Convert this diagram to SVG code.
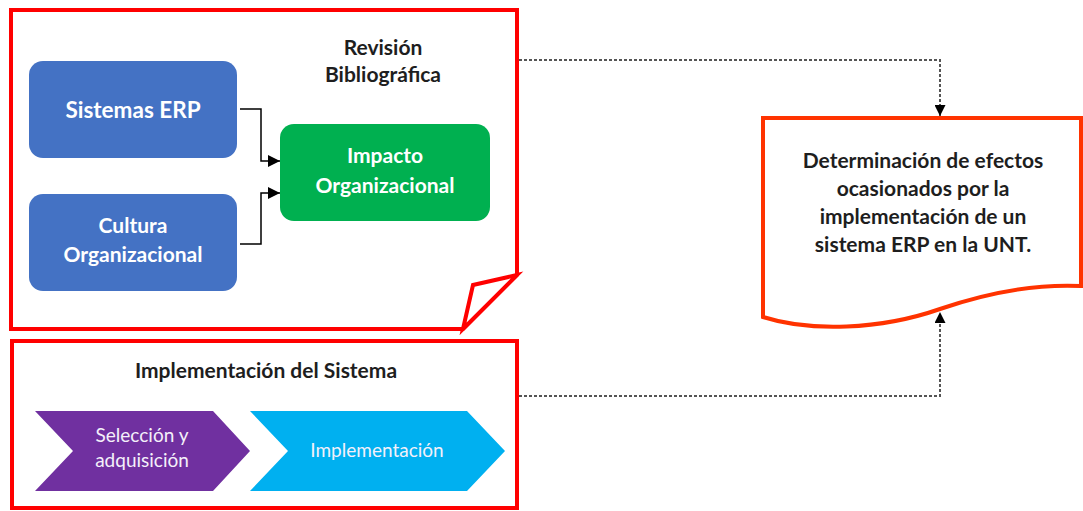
<svg xmlns="http://www.w3.org/2000/svg" width="1083" height="511" viewBox="0 0 1083 511">
  <style>
    .frame { fill: #ffffff; stroke: #ff0000; stroke-width: 4; stroke-linejoin: miter; }
    .doc { fill: #ffffff; stroke: #ff3300; stroke-width: 4; }
    .box-blue { fill: #4472c4; }
    .box-green { fill: #00b050; }
    .lbl { font-family: Lato, "Liberation Sans", sans-serif; font-weight: bold; text-anchor: middle; }
    .white { fill: #ffffff; }
    .dark { fill: #1e1e1e; }
    .chev-lbl { font-family: Lato, "Liberation Sans", sans-serif; font-size: 19px; fill: #f4f0fa; text-anchor: middle; }
    .solid { fill: none; stroke: #000000; stroke-width: 1.5; }
    .dotted { fill: none; stroke: #555555; stroke-width: 2; stroke-dasharray: 3 2; }
  </style>
  <defs>
    <marker id="arrow-solid" viewBox="0 0 10 10" refX="10" refY="5" markerWidth="12" markerHeight="12" markerUnits="userSpaceOnUse" orient="auto">
      <path d="M0,0 L10,5 L0,10 Z" fill="#000000"/>
    </marker>
    <marker id="arrow-dot" viewBox="0 0 10 10" refX="10" refY="5" markerWidth="11" markerHeight="11" markerUnits="userSpaceOnUse" orient="auto">
      <path d="M0,0 L10,5 L0,10 Z" fill="#000000"/>
    </marker>
  </defs>

  <!-- Literature review frame (folded-corner page) -->
  <g id="revision-bibliografica">
    <path class="frame" d="M11,10 H517 V275 L463,329 H11 Z"/>
    <path class="frame" d="M517,275 L473,285 L463,329 Z"/>
    <text class="lbl dark" font-size="21" x="383" y="55">Revisión</text>
    <text class="lbl dark" font-size="21" x="383" y="82">Bibliográfica</text>
  </g>

  <g id="sistemas-erp">
    <rect class="box-blue" x="29" y="61" width="208" height="97" rx="14"/>
    <text class="lbl white" font-size="22.5" x="133" y="118">Sistemas ERP</text>
  </g>

  <g id="cultura-organizacional">
    <rect class="box-blue" x="29" y="194" width="208" height="97" rx="14"/>
    <text class="lbl white" font-size="21" x="133" y="233">Cultura</text>
    <text class="lbl white" font-size="21" x="133" y="262">Organizacional</text>
  </g>

  <g id="impacto-organizacional">
    <rect class="box-green" x="280" y="124" width="210" height="97" rx="14"/>
    <text class="lbl white" font-size="21" x="385" y="163">Impacto</text>
    <text class="lbl white" font-size="21" x="385" y="193">Organizacional</text>
  </g>

  <!-- System implementation frame -->
  <g id="implementacion-sistema">
    <rect class="frame" x="12" y="341" width="505" height="167"/>
    <text class="lbl dark" font-size="21" x="266" y="378">Implementación del Sistema</text>
  </g>

  <g id="seleccion-adquisicion">
    <path d="M35,411 H213 L250,451 L213,491 H35 L73,451 Z" fill="#7030a0"/>
    <text class="chev-lbl" x="142" y="442">Selección y</text>
    <text class="chev-lbl" x="142" y="467">adquisición</text>
  </g>

  <g id="implementacion">
    <path d="M250,411 H467 L505,451 L467,491 H250 L288,451 Z" fill="#00b0f0"/>
    <text class="chev-lbl" x="377" y="457">Implementación</text>
  </g>

  <!-- Outcome document -->
  <g id="determinacion-efectos">
    <path class="doc" d="M763,118 H1081 V286 C1040,284 990,292 940,309 C880,330 810,332 763,317 Z"/>
    <text class="lbl dark" font-size="21" x="923" y="168">Determinación de efectos</text>
    <text class="lbl dark" font-size="21" x="923" y="196">ocasionados por la</text>
    <text class="lbl dark" font-size="21" x="923" y="224">implementación de un</text>
    <text class="lbl dark" font-size="21" x="923" y="252">sistema ERP en la UNT.</text>
  </g>

  <g id="connectors">
    <path class="solid" d="M240,109 H261 V161 H280" marker-end="url(#arrow-solid)"/>
    <path class="solid" d="M240,244 H261 V193 H280" marker-end="url(#arrow-solid)"/>
    <path class="dotted" d="M519,60 H940 V116" marker-end="url(#arrow-dot)"/>
    <path class="dotted" d="M519,396 H940 V312" marker-end="url(#arrow-dot)"/>
  </g>
</svg>
